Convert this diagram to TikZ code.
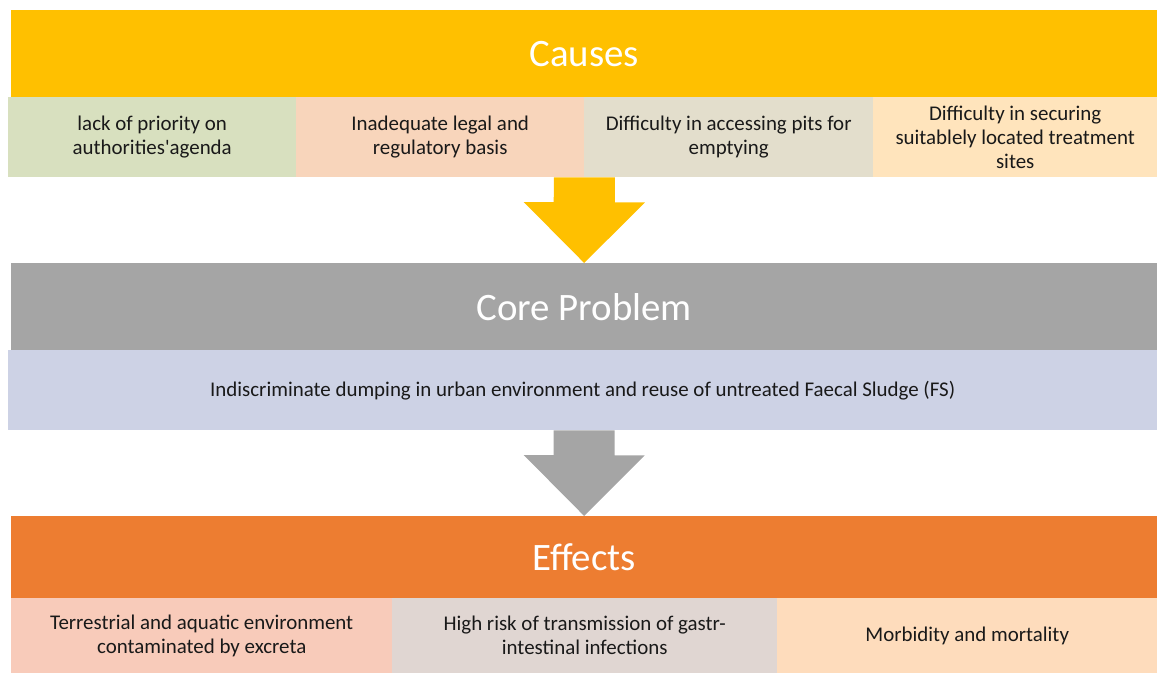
\documentclass[tikz,border=0pt]{standalone}
\usepackage{fontspec}
\setmainfont{Carlito}
\usepackage{xcolor}

\definecolor{causegold}{HTML}{FFC000}
\definecolor{coregray}{HTML}{A5A5A5}
\definecolor{effectorange}{HTML}{ED7D31}
\definecolor{cellgreen}{HTML}{D8E0BF}
\definecolor{cellpeach}{HTML}{F8D5BB}
\definecolor{cellbeige}{HTML}{E3DECC}
\definecolor{cellcream}{HTML}{FFE4BC}
\definecolor{cellblue}{HTML}{CDD2E5}
\definecolor{cellrose}{HTML}{F8CBBA}
\definecolor{cellgrey}{HTML}{E0D6D2}
\definecolor{cellsand}{HTML}{FEDCBC}

\begin{document}
\begin{tikzpicture}[x=1bp,y=-1bp,
  head/.style={anchor=north west,inner sep=0pt,minimum width=1146bp,
    minimum height=87bp,text=white,font=\fontsize{39}{44}\selectfont},
  cell/.style={anchor=north west,inner sep=0pt,minimum height=80bp,
    align=center,text=black!90,font=\fontsize{21}{24}\selectfont}]

\useasboundingbox (0,0) rectangle (1157,673);

% causes
\node[head,fill=causegold] (causehead) at (11,10) {Causes};
\node[cell,fill=cellgreen,minimum width=288bp] (causeA) at (8,97)
  {lack of priority on\\authorities\textquotesingle agenda};
\node[cell,fill=cellpeach,minimum width=288bp] (causeB) at (296,97)
  {Inadequate legal and\\regulatory basis};
\node[cell,fill=cellbeige,minimum width=289bp] (causeC) at (584,97)
  {Difficulty in accessing pits for\\emptying};
\node[cell,fill=cellcream,minimum width=284bp] (causeD) at (873,97)
  {Difficulty in securing\\suitablely located treatment\\sites};

% core problem
\node[head,fill=coregray] (corehead) at (11,263) {Core Problem};
\node[cell,fill=cellblue,minimum width=1149bp] (core) at (8,350)
  {Indiscriminate dumping in urban environment and reuse of untreated Faecal Sludge (FS)};

% effects
\node[head,fill=effectorange,minimum height=82bp] (effhead) at (11,516) {Effects};
\node[cell,fill=cellrose,minimum width=381bp,minimum height=75bp] (effA) at (11,598)
  {Terrestrial and aquatic environment\\contaminated by excreta};
\node[cell,fill=cellgrey,minimum width=385bp,minimum height=75bp] (effB) at (392,598)
  {High risk of transmission of gastr-\\intestinal infections};
\node[cell,fill=cellsand,minimum width=380bp,minimum height=75bp] (effC) at (777,598)
  {Morbidity and mortality};

% block arrows between the rows
\fill[causegold] (causeB.south east) ++(-30.5,0) -- ++(61,0) -- ++(0,25)
  -- ++(30,0) -- (corehead.north) -- ++(-60.5,-61) -- ++(30,0) -- cycle;
\fill[coregray] (core.south -| effhead.north) ++(-30.5,0) -- ++(61,0) -- ++(0,25)
  -- ++(30,0) -- (effhead.north) -- ++(-60.5,-61) -- ++(30,0) -- cycle;

\end{tikzpicture}
\end{document}
